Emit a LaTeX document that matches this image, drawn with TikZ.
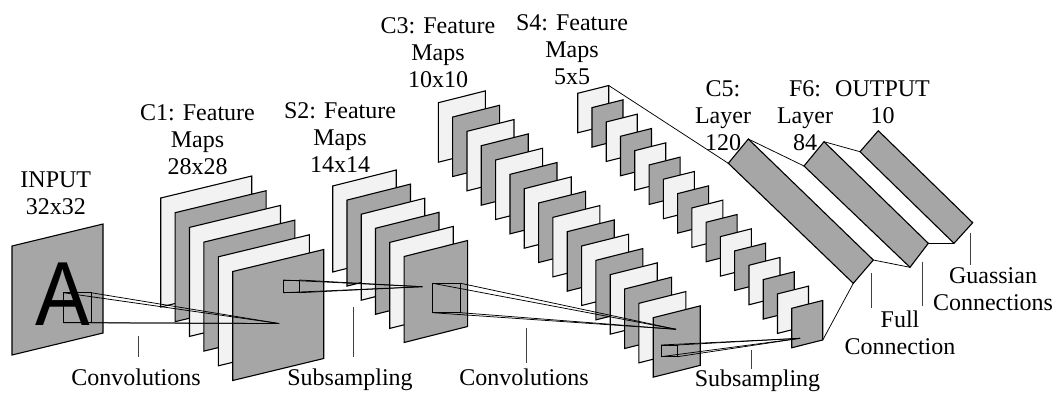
\documentclass[tikz,border=0pt]{standalone}
\usepackage{fontspec}
\setmainfont{Liberation Serif}
\newfontfamily\glyphfont{Liberation Sans}
\definecolor{mapgray}{HTML}{A6A6A6}
\definecolor{maplight}{HTML}{F2F2F2}

% one feature map: top-left x, top-left y, width, height, skew, fill
\newcommand\featmap[6]{%
  \filldraw[fmap, fill=#6] (#1,#2) -- ++(#3,-#5) -- ++(0,#4) -- ++(-#3,#5) -- cycle;}
% receptive-field window: name, x1, y1, x2, y2
\newcommand\window[5]{%
  \coordinate (#1-tl) at (#2,#3);
  \coordinate (#1-tr) at (#4,#3);
  \coordinate (#1-bl) at (#2,#5);
  \coordinate (#1-br) at (#4,#5);
  \draw[link] (#1-tl) rectangle (#1-br);}

\begin{document}
\begin{tikzpicture}[x=1pt,y=-1pt,
  fmap/.style={draw=black, line width=1.1pt, line join=miter},
  link/.style={draw=black, line width=0.75pt},
  tick/.style={draw=black!75, line width=0.8pt},
  lbl/.style={anchor=north, inner sep=0pt, align=center,
              font=\fontsize{24}{27}\selectfont},
]
\useasboundingbox (0,0) rectangle (1054,392);

% input image
\featmap{12}{246}{91}{109}{22}{mapgray}
\node[inner sep=0pt, anchor=base, font=\glyphfont\fontsize{91}{91}\selectfont]
  (letter) at (62.5,325) {\scalebox{0.9}[1]{A}};

% C1: six maps
\foreach \k in {0,...,5}{
  \ifodd\k \def\fc{mapgray}\else\def\fc{maplight}\fi
  \featmap{160.7+14.4*\k}{198+14.7*\k}{91}{109}{22}{\fc}
}
% S2: six maps
\foreach \k in {0,...,5}{
  \ifodd\k \def\fc{mapgray}\else\def\fc{maplight}\fi
  \featmap{332.7+14.27*\k}{186+14.1*\k}{63.5}{86}{16}{\fc}
}
% C3: sixteen maps
\foreach \k in {0,...,15}{
  \ifodd\k \def\fc{mapgray}\else\def\fc{maplight}\fi
  \featmap{438.3+14.33*\k}{102.7+14.33*\k}{47}{59.5}{11.8}{\fc}
}
% S4: sixteen maps
\foreach \k in {0,...,15}{
  \ifodd\k \def\fc{mapgray}\else\def\fc{maplight}\fi
  \featmap{577.7+14.27*\k}{93.3+14.33*\k}{31}{39.5}{7.8}{\fc}
}
\coordinate (s4first) at (608.7,85.5);
\coordinate (s4last) at (822.75,340);

% C5, F6 and OUTPUT layers
\coordinate (c5a) at (728.3,163.3);
\coordinate (c5b) at (748.3,139);
\coordinate (c5c) at (873.3,260);
\coordinate (c5d) at (853.3,283.3);
\coordinate (f6a) at (804,166);
\coordinate (f6b) at (824,141.7);
\coordinate (f6c) at (928.3,243.3);
\coordinate (f6d) at (910,267.3);
\coordinate (oa) at (860,151.7);
\coordinate (ob) at (878.3,130.7);
\coordinate (oc) at (972.7,222.7);
\coordinate (od) at (954,243.3);
\filldraw[fmap, fill=mapgray] (c5a) -- (c5b) -- (c5c) -- (c5d) -- cycle;
\filldraw[fmap, fill=mapgray] (f6a) -- (f6b) -- (f6c) -- (f6d) -- cycle;
\filldraw[fmap, fill=mapgray] (oa) -- (ob) -- (oc) -- (od) -- cycle;

% receptive-field windows and their target units
\window{wi}{63.3}{292.7}{91}{322.7}
\window{wc}{283.3}{280}{299.3}{292.7}
\window{ws}{432.7}{283.3}{460.7}{312.7}
\window{wt}{661}{345}{677.3}{356.7}
\coordinate (p1) at (279,323.5);
\coordinate (p2) at (422.3,286.7);
\coordinate (p3) at (676,329.3);
\coordinate (p4) at (800,338.3);
\foreach \c in {tl,tr,bl,br}{
  \draw[link] (wi-\c) -- (p1);
  \draw[link] (wc-\c) -- (p2);
  \draw[link] (ws-\c) -- (p3);
  \draw[link] (wt-\c) -- (p4);
}

% full connections between the last layers
\draw[link] (s4first) -- (c5a);
\draw[link] (s4last) -- (c5d);
\draw[link] (c5b) -- (f6a);
\draw[link] (c5c) -- (f6d);
\draw[link] (f6b) -- (oa);
\draw[link] (f6c) -- (od);

% layer titles
\node[lbl] (tin) at (55.8,171.7) {INPUT\\32x32};
\node[lbl] (tc1) at (197.5,104) {C1: Feature\\Maps\\28x28};
\node[lbl] (ts2) at (340,102) {S2: Feature\\Maps\\14x14};
\node[lbl] (tc3) at (438,17) {C3: Feature\\Maps\\10x10};
\node[lbl] (ts4) at (572,14) {S4: Feature\\Maps\\5x5};
\node[lbl] (tc5) at (723,80.5) {C5:\\Layer\\120};
\node[lbl] (tf6) at (805,80.5) {F6:\\Layer\\84};
\node[lbl] (tout) at (882.5,80.5) {OUTPUT\\10};

% operation labels with their markers
\node[lbl] (op1) at (136,368.3) {Convolutions};
\node[lbl] (op2) at (350,369) {Subsampling};
\node[lbl] (op3) at (524,368.3) {Convolutions};
\node[lbl] (op4) at (757.5,370) {Subsampling};
\node[lbl] (op5) at (900,311) {Full\\Connection};
\node[lbl] (op6) at (993,267) {Guassian\\Connections};

\coordinate (m1a) at (138.3,336);   \coordinate (m1b) at (138.3,356.7);
\coordinate (m2a) at (353.3,306.7); \coordinate (m2b) at (353.3,356.7);
\coordinate (m3a) at (526,328);     \coordinate (m3b) at (526,362.7);
\coordinate (m4a) at (751.7,350);   \coordinate (m4b) at (751.7,369);
\coordinate (m5a) at (871.7,273.3); \coordinate (m5b) at (871.7,308.3);
\coordinate (m6a) at (922.3,261.7); \coordinate (m6b) at (922.3,306);
\coordinate (m7a) at (970.7,232.7); \coordinate (m7b) at (970.7,265);
\foreach \m in {1,...,7}{ \draw[tick] (m\m a) -- (m\m b); }
\end{tikzpicture}
\end{document}
